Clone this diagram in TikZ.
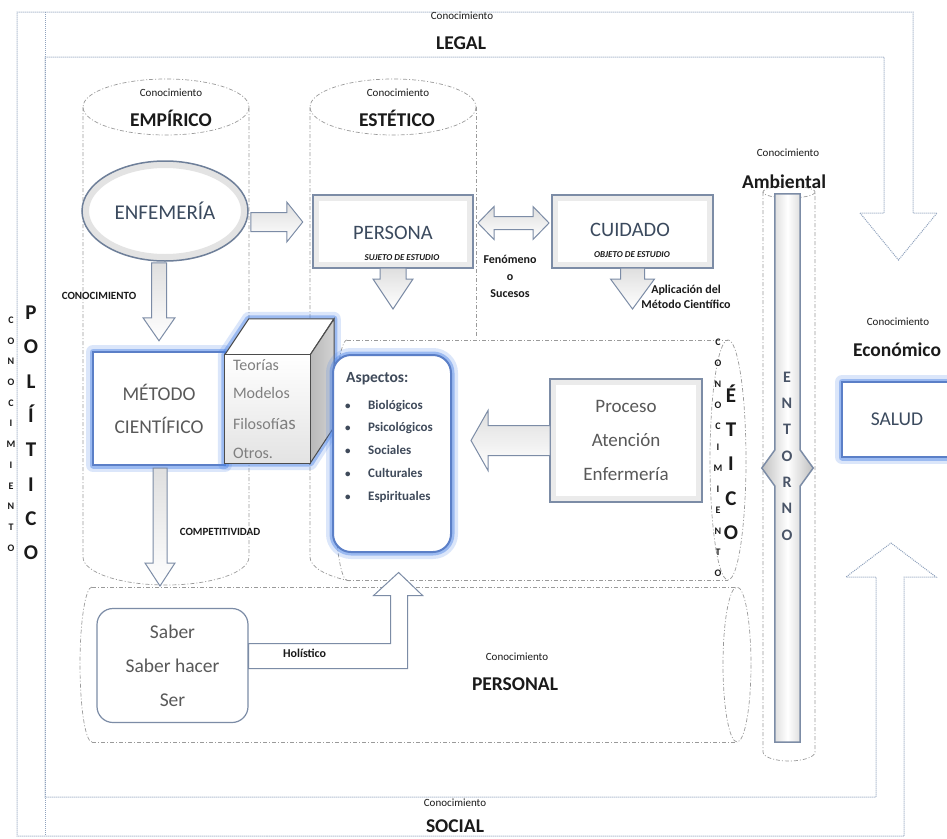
\documentclass[tikz,border=0pt]{standalone}
\usepackage{fontspec}
\setmainfont{Carlito}
\usetikzlibrary{calc,shapes.geometric}
\definecolor{framec}{HTML}{8FA2BD}
\definecolor{cylc}{HTML}{9A9A9A}
\definecolor{boxc}{HTML}{7C8CA6}
\definecolor{enfbord}{HTML}{6E7F99}
\definecolor{bluebord}{HTML}{5B7FC7}
\definecolor{glowc}{HTML}{4F86E8}
\definecolor{txtc}{HTML}{1A1A1A}
\definecolor{slate}{HTML}{3B4A5E}
\definecolor{greytxt}{HTML}{595959}
\definecolor{lighttxt}{HTML}{7F7F7F}
\definecolor{asptxt}{HTML}{3F4A5A}
\definecolor{enttxt}{HTML}{4A5568}
\newcommand\fsz[2]{\fontsize{#1}{#2}\selectfont}
\newcommand\blockarrow[7][]{%
  \draw[barrow,#1,shift={(#2)},rotate=#3] (0,-#5) -- ({#4-#7},-#5) -- ({#4-#7},-#6) -- (#4,0) -- ({#4-#7},#6) -- ({#4-#7},#5) -- (0,#5) -- cycle;}
\newcommand\dblarrow[6]{%
  \draw[barrow,shift={(#1)},rotate=#2] (0,0) -- (#6,-#5) -- (#6,-#4) -- ({#3-#6},-#4) -- ({#3-#6},-#5) -- (#3,0) -- ({#3-#6},#5) -- ({#3-#6},#4) -- (#6,#4) -- (#6,#5) -- cycle;}
\begin{document}
\begin{tikzpicture}[x=1pt,y=-1pt,
  frameline/.style={draw=framec, densely dotted, line width=1pt},
  cyl/.style={draw=cylc, dash pattern=on 4pt off 2pt on 1pt off 2pt, line width=0.7pt},
  lbl/.style={text=txtc, inner sep=0pt, align=center},
  smalllbl/.style={lbl, font=\fsz{11}{13}},
  biglbl/.style={lbl, font=\bfseries\fsz{19.5}{22}},
  tinybold/.style={lbl, font=\bfseries\fsz{11}{13}},
  box/.style={draw=boxc, line width=2pt, fill=white, inner sep=0pt, align=center,
     path picture={\draw[gray!16, line width=12pt] (path picture bounding box.south west) rectangle (path picture bounding box.north east);}},
  bluebox/.style={draw=bluebord, line width=2pt, fill=white, inner sep=0pt, align=center},
  glow/.style={preaction={draw=glowc, line width=14pt, opacity=0.2, line join=round},
               preaction={draw=glowc, line width=7pt, opacity=0.45, line join=round}},
  barrow/.style={draw=boxc, line width=1pt, top color=gray!25, bottom color=white, line join=miter},
  vlet/.style={inner sep=0pt, align=center, text=txtc}]
\clip (0,0) rectangle (947,838);
\fill[white] (0,0) rectangle (947,838);

% ---------- outer frame (legal / politico / social bands) ----------
\draw[frameline] (860,213) -- (898.5,260) -- (937,213) -- (913,213) -- (913,12) -- (17,12)
  -- (17,836) -- (904,836) -- (904,577) -- (936,577) -- (891,543) -- (846,577) -- (876,577)
  -- (876,797) -- (45,797) -- (45,57) -- (884,57) -- (884,213) -- cycle;
\draw[frameline] (45,12) -- (45,836);

% ---------- cylinders ----------
\draw[cyl] (166,107) ellipse (83 and 28);
\draw[cyl] (83,107) -- (83,557) arc[start angle=180, end angle=360, x radius=83pt, y radius=28pt] -- (249,107);
\draw[cyl] (393,107) ellipse (83 and 28);
\draw[cyl] (310,107) -- (310,557) arc[start angle=180, end angle=240, x radius=83pt, y radius=28pt];
\draw[cyl] (476,107) -- (476,338);
\draw[cyl] (347,340) -- (728,340);
\draw[cyl] (347,580) -- (728,580);
\draw[cyl] (347,340) arc[start angle=90, end angle=270, x radius=14pt, y radius=120pt];
\draw[cyl] (728,460) ellipse (18 and 120);
\draw[cyl] (92,587) -- (737,587);
\draw[cyl] (92,742) -- (737,742);
\draw[cyl] (92,587) arc[start angle=90, end angle=270, x radius=12pt, y radius=77.5pt];
\draw[cyl] (737,664.5) ellipse (14 and 77.5);
\draw[cyl] (763,192) -- (763,752) arc[start angle=180, end angle=360, x radius=26pt, y radius=9pt] -- (815,192);
\draw[cyl] (789,192) ellipse (26 and 6);

% ---------- labels ----------
\node[smalllbl] (legal1) at (462,16) {Conocimiento};
\node[biglbl] (legal2) at (461,43) {LEGAL};
\node[smalllbl] (social1) at (455,803) {Conocimiento};
\node[biglbl] (social2) at (455,826) {SOCIAL};
\node[smalllbl] (emp1) at (171,93) {Conocimiento};
\node[biglbl] (emp2) at (171,118) {EMPÍRICO};
\node[smalllbl] (est1) at (398,93) {Conocimiento};
\node[biglbl] (est2) at (397,118) {ESTÉTICO};
\node[smalllbl] (amb1) at (788,153) {Conocimiento};
\node[biglbl] (amb2) at (784,182) {Ambiental};
\node[smalllbl] (eco1) at (898,322) {Conocimiento};
\node[biglbl] (eco2) at (897,350) {Económico};
\node[smalllbl] (pers1) at (517,657) {Conocimiento};
\node[biglbl] (pers2) at (515,684) {PERSONAL};

\node[tinybold] (conoc) at (99,296) {CONOCIMIENTO};
\node[tinybold] (compet) at (220,532) {COMPETITIVIDAD};
\node[lbl, font=\bfseries\fsz{12}{17}] (fen) at (510,276) {Fenómeno\\o\\Sucesos};
\node[lbl, font=\bfseries\fsz{12}{14.5}] (apl) at (686,297) {Aplicación del\\Método Científico};

\node[vlet, font=\bfseries\fsz{21}{34.3}] (pol) at (31,433) {P\\O\\L\\Í\\T\\I\\C\\O};
\node[vlet, font=\bfseries\fsz{10}{20.7}] (conpol) at (11,434) {C\\O\\N\\O\\C\\I\\M\\I\\E\\N\\T\\O};
\node[vlet, font=\bfseries\fsz{21}{34.3}] (eti) at (731,462) {É\\T\\I\\C\\O};
\node[vlet, font=\bfseries\fsz{10}{21}] (coneti) at (718,458) {C\\O\\N\\O\\C\\I\\M\\I\\E\\N\\T\\O};

% ---------- ENTORNO bar ----------
\node[minimum width=25, minimum height=548, inner sep=0] (entbar) at (787.5,468) {};
\draw[draw=boxc, line width=1.5pt, left color=gray!50, right color=gray!50, middle color=white]
  (entbar.north west) -- (entbar.north east) -- ($(entbar.east)+(0,-18)$) -- ($(entbar.east)+(13,0)$)
  -- ($(entbar.east)+(0,18)$) -- (entbar.south east) -- (entbar.south west) -- ($(entbar.west)+(0,18)$)
  -- ($(entbar.west)+(-13,0)$) -- ($(entbar.west)+(0,-18)$) -- cycle;
\node[vlet, text=enttxt, font=\bfseries\fsz{16}{26.3}] (ent) at (787,456) {E\\N\\T\\O\\R\\N\\O};

% ---------- boxes ----------
\node[ellipse, draw=enfbord, line width=1.5pt, fill=white,
  minimum width=166, minimum height=100, inner sep=0pt, font=\fsz{21}{24}, text=slate,
  path picture={\draw[gray!22, line width=14pt] (path picture bounding box.center) ellipse (83 and 50);}]
  (enf) at (165,211) {ENFEMERÍA};

\node[box, minimum width=160, minimum height=73] (per) at (393,231.5) {};
\node[lbl, font=\fsz{20.5}{24}, text=slate] (pert) at (393,233) {PERSONA};
\node[lbl, font=\bfseries\itshape\fsz{9}{10}] (pers) at (402,258) {SUJETO DE ESTUDIO};

\node[box, minimum width=161, minimum height=73] (cui) at (632.5,231.5) {};
\node[lbl, font=\fsz{20.5}{24}, text=slate] (cuit) at (630,230) {CUIDADO};
\node[lbl, font=\bfseries\itshape\fsz{9}{10}] (cuis) at (632,255) {OBJETO DE ESTUDIO};

\node[bluebox, glow, minimum width=132, minimum height=113, font=\fsz{19.5}{33}, text=greytxt] (met) at (159,408.5) {MÉTODO\\CIENTÍFICO};

\node[minimum width=85, minimum height=108, inner sep=0] (cubef) at (267.5,409) {};
\path[glow] (cubef.north west) -- ++(24,-36) -- ++(85,0) -- ++(0,108) -- (cubef.south east) -- (cubef.south west) -- cycle;
\draw[draw=gray!60!black, line width=1pt, fill=white] (cubef.north west) -- ++(24,-36) -- ++(85,0) -- (cubef.north east) -- cycle;
\draw[draw=gray!60!black, line width=1pt, left color=gray!55, right color=gray!35] (cubef.north east) -- ++(24,-36) -- ++(0,108) -- (cubef.south east) -- cycle;
\draw[draw=gray!60!black, line width=1pt, top color=white, bottom color=gray!22] (cubef.north west) rectangle (cubef.south east);
\node[anchor=west, inner sep=0, text=lighttxt, font=\fsz{16}{18}] (t1) at ($(cubef.west)+(8,-44)$) {Teorías};
\node[anchor=west, inner sep=0, text=lighttxt, font=\fsz{16}{18}] (t2) at ($(cubef.west)+(8,-16)$) {Modelos};
\node[anchor=west, inner sep=0, text=lighttxt, font=\fsz{16}{18}] (t3) at ($(cubef.west)+(8,15)$) {Filosofí{\fsz{19}{20}as}};
\node[anchor=west, inner sep=0, text=lighttxt, font=\fsz{16}{18}] (t4) at ($(cubef.west)+(8,44)$) {Otros.};

\node[bluebox, glow, rounded corners=18pt, minimum width=118, minimum height=197] (asp) at (392,453.5) {};
\node[anchor=west, inner sep=0, text=asptxt, font=\bfseries\fsz{15.5}{18}] (aspt) at ($(asp.north west)+(14,25)$) {Aspectos:};
\foreach \t [count=\i] in {Biológicos,Psicológicos,Sociales,Culturales,Espirituales}
  \node[anchor=base west, inner sep=0, text=asptxt, font=\bfseries\fsz{13}{15}] (b\i) at ($(asp.north west)+(13,{32.2+22.8*\i})$) {\makebox[23pt][l]{\fsz{11}{12}•}\t};

\node[box, minimum width=152, minimum height=123, font=\fsz{19}{34}, text=greytxt] (pro) at (626,440.5) {Proceso\\Atención\\Enfermería};

\node[draw=boxc, line width=1.2pt, rounded corners=16pt, fill=white, minimum width=151, minimum height=114,
  inner sep=0pt, font=\fsz{19.5}{34}, text=greytxt, align=center] (sab) at (172.5,665.5) {Saber\\Saber hacer\\Ser};

\node[bluebox, glow, minimum width=110, minimum height=75, font=\fsz{19.5}{22}, text=slate] (sal) at (897,419.5) {SALUD};

% ---------- block arrows ----------
\coordinate (a1) at ($(enf.east)+(2,11)$);
\blockarrow{a1}{0}{52}{9.5}{20}{16}
\coordinate (a2) at ($(per.south)+(0,-1)$);
\blockarrow{a2}{-90}{41}{13}{20}{30}
\coordinate (a3) at ($(per.east)+(4,-8.5)$);
\dblarrow{a3}{0}{71}{6.5}{16.5}{16}
\coordinate (a4) at ($(cui.south)+(0,-1)$);
\blockarrow{a4}{-90}{41}{12}{22}{30}
\coordinate (a5) at ($(enf.south)+(-6,1)$);
\blockarrow{a5}{-90}{78}{7.5}{16}{23}
\coordinate (a6) at ($(met.south)+(1,2)$);
\blockarrow{a6}{-90}{118}{7}{15}{23}
\coordinate (a7) at ($(pro.west)+(1,0)$);
\blockarrow{a7}{180}{79}{15}{30}{17}
\coordinate (h0) at ($(sab.east)+(0,-22)$);
\draw[barrow, top color=white, bottom color=white] (h0) -- ++(142,0) -- ++(0,-48) -- ++(-17,0) -- ++(25,-23) -- ++(24,23) -- ++(-15,0) -- ++(0,73) -- ++(-159,0) -- cycle;
\node[lbl, font=\bfseries\fsz{12}{14}] (holis) at ($(sab.east)+(56,-12)$) {Holístico};
\end{tikzpicture}
\end{document}
